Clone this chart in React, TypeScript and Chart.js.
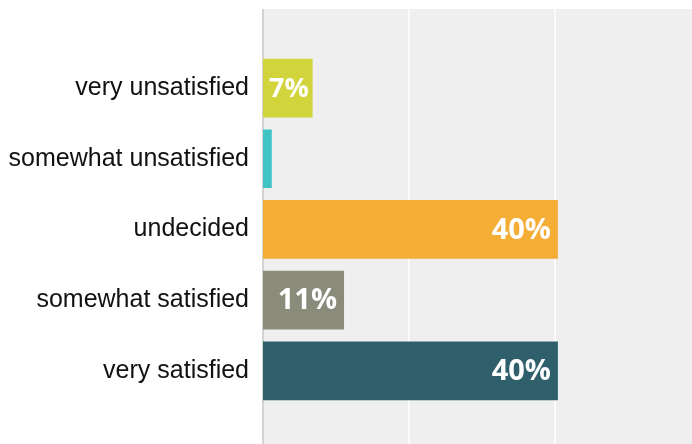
import React, { useEffect, useRef } from "react";
import { Chart, registerables } from "chart.js";

Chart.register(...registerables);

const categories = [
  "very unsatisfied",
  "somewhat unsatisfied",
  "undecided",
  "somewhat satisfied",
  "very satisfied",
];
const values = [6.8, 1.2, 40.4, 11.1, 40.4];
const valueLabels = ["7%", "", "40%", "11%", "40%"];
const barColors = ["#d2d43c", "#3fc3c5", "#f5ae35", "#8a8b7b", "#2f5f6b"];
const gridValues = [20, 40, 60];

const backdropPlugin = {
  id: "backdrop",
  beforeDraw(chart: any) {
    const { ctx, chartArea, width, height } = chart;
    const xs = chart.scales.x;
    const top = 9;
    ctx.save();
    ctx.fillStyle = "#efefef";
    ctx.fillRect(chartArea.left, top, width - chartArea.left, height - top);
    ctx.strokeStyle = "#ffffff";
    ctx.lineWidth = 1.5;
    gridValues.forEach((v) => {
      const x = xs.getPixelForValue(v);
      ctx.beginPath();
      ctx.moveTo(x, top);
      ctx.lineTo(x, height);
      ctx.stroke();
    });
    ctx.strokeStyle = "#d3d3d3";
    ctx.lineWidth = 2;
    ctx.beginPath();
    ctx.moveTo(chartArea.left, top);
    ctx.lineTo(chartArea.left, height);
    ctx.stroke();
    ctx.restore();
  },
  afterDatasetsDraw(chart: any) {
    const { ctx } = chart;
    const meta = chart.getDatasetMeta(0);
    ctx.save();
    ctx.fillStyle = "#ffffff";
    ctx.textBaseline = "middle";
    meta.data.forEach((bar: any, i: number) => {
      const txt = valueLabels[i];
      if (!txt) return;
      ctx.font = 'bold 29px "Open Sans", "DejaVu Sans", sans-serif';
      const w = ctx.measureText(txt).width;
      const barW = bar.x - bar.base;
      if (barW < w + 12) {
        ctx.font = 'bold 27px "Open Sans", "DejaVu Sans", sans-serif';
        ctx.textAlign = "center";
        ctx.fillText(txt, (bar.x + bar.base) / 2 + 1, bar.y + 1);
      } else {
        ctx.textAlign = "right";
        ctx.fillText(txt, bar.x - 7, bar.y + 1);
      }
    });
    ctx.restore();
  },
};

export default function App() {
  const ref = useRef<HTMLCanvasElement>(null);
  useEffect(() => {
    if (!ref.current) return;
    const chart = new Chart(ref.current, {
      type: "bar",
      data: {
        labels: categories,
        datasets: [
          {
            data: values,
            backgroundColor: barColors,
            borderWidth: 0,
            barPercentage: 0.83,
            categoryPercentage: 1,
          },
        ],
      },
      options: {
        indexAxis: "y",
        animation: false,
        responsive: false,
        devicePixelRatio: 1,
        layout: { padding: { top: 52.7, bottom: 37.8, left: 0, right: 9 } },
        plugins: { legend: { display: false }, tooltip: { enabled: false } },
        scales: {
          x: { display: false, min: 0, max: 60 },
          y: {
            grid: { display: false, drawTicks: false },
            border: { display: false },
            ticks: {
              padding: 14,
              color: "#111111",
              font: { family: '"Liberation Sans", Arial, sans-serif', size: 25 },
            },
            afterFit(scale: any) {
              scale.width = 263;
            },
          },
        },
      },
      plugins: [backdropPlugin],
    });
    return () => chart.destroy();
  }, []);
  return (
    <div
      style={{
        position: "fixed",
        left: 0,
        top: 0,
        width: 692,
        height: 444,
        overflow: "hidden",
        background: "#ffffff",
      }}
    >
      <canvas ref={ref} width={710} height={444} style={{ display: "block" }} />
    </div>
  );
}
